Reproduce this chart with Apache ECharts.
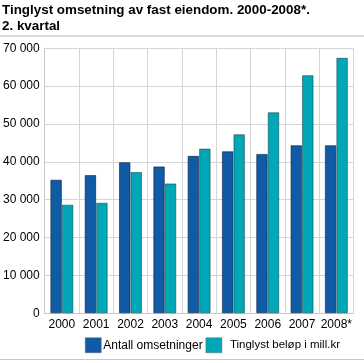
<!DOCTYPE html>
<html><head><meta charset="utf-8">
<script src="https://cdn.jsdelivr.net/npm/echarts@6/dist/echarts.min.js"></script>
<style>html,body{margin:0;padding:0;background:#fff}#c{width:364px;height:363px}</style>
</head><body><div id="c"></div>
<script>
const categories = ['2000','2001','2002','2003','2004','2005','2006','2007','2008*'];
const antall = [35300, 36500, 39900, 38800, 41600, 42800, 42100, 44400, 44400];
const belop = [28700, 29200, 37300, 34300, 43500, 47300, 53100, 62900, 67500];
const yTicks = [0, 10000, 20000, 30000, 40000, 50000, 60000, 70000];
const seriesNames = ['Antall omsetninger', 'Tinglyst beløp i mill.kr'];
const titleLines = ['Tinglyst omsetning av fast eiendom. 2000-2008*.', '2. kvartal'];

const chart = echarts.init(document.getElementById('c'), null, {renderer:'canvas'});
const fmt = v => String(v).replace(/\B(?=(\d{3})+(?!\d))/g, ' ');
chart.setOption({
  animation:false,
  textStyle:{fontFamily:'Liberation Sans, Arial, sans-serif'},
  title:{text:titleLines.join('\n'), left:2, top:2, padding:0,
    textStyle:{fontSize:13.4, fontWeight:'bold', color:'#000', lineHeight:16, fontFamily:'Liberation Sans, Arial, sans-serif'}},
  graphic:[
    {type:'line', shape:{x1:0,y1:36,x2:364,y2:36}, style:{stroke:'#b0b0b0', lineWidth:1}},
    {type:'line', shape:{x1:0,y1:359.5,x2:364,y2:359.5}, style:{stroke:'#c8c8c8', lineWidth:1}}
  ],
  legend:{data:[
      {name:seriesNames[0]},
      {name:seriesNames[1], textStyle:{fontSize:11.5, padding:[0,0,0,3]}}
    ], bottom:10, left:85, padding:0, itemWidth:16, itemHeight:15, itemGap:3,
    icon:'rect', textStyle:{fontSize:12, color:'#000', padding:[0,0,0,-3]},
    itemStyle:{borderColor:'#666', borderWidth:0.5}},
  grid:{left:42.5, right:10.5, top:48.3, bottom:49.7},
  xAxis:{type:'category', data:categories, boundaryGap:true,
    axisLine:{show:true, lineStyle:{color:'#c8c8d0'}}, axisTick:{show:false},
    axisLabel:{fontSize:12, color:'#000', margin:5, interval:0},
    splitLine:{show:true, interval:0, lineStyle:{color:'#d4d4dc', width:1}}},
  yAxis:{type:'value', min:0, max:70000, interval:10000,
    axisLine:{show:true, lineStyle:{color:'#c8c8d0'}}, axisTick:{show:false},
    axisLabel:{fontSize:12, color:'#000', margin:5, formatter:v=> yTicks.includes(v)?fmt(v):''},
    splitLine:{show:true, lineStyle:{color:'#d4d4dc', width:1}}},
  series:[
    {name:seriesNames[0], type:'bar', data:antall, barWidth:11.5, barGap:'0%',
      itemStyle:{color:'#0f5ba6', borderColor:'rgba(10,30,60,0.6)', borderWidth:1}},
    {name:seriesNames[1], type:'bar', data:belop, barWidth:11.5, barGap:'0%',
      itemStyle:{color:'#00a8b7', borderColor:'rgba(20,60,70,0.55)', borderWidth:1}}
  ]
});
</script></body></html>
